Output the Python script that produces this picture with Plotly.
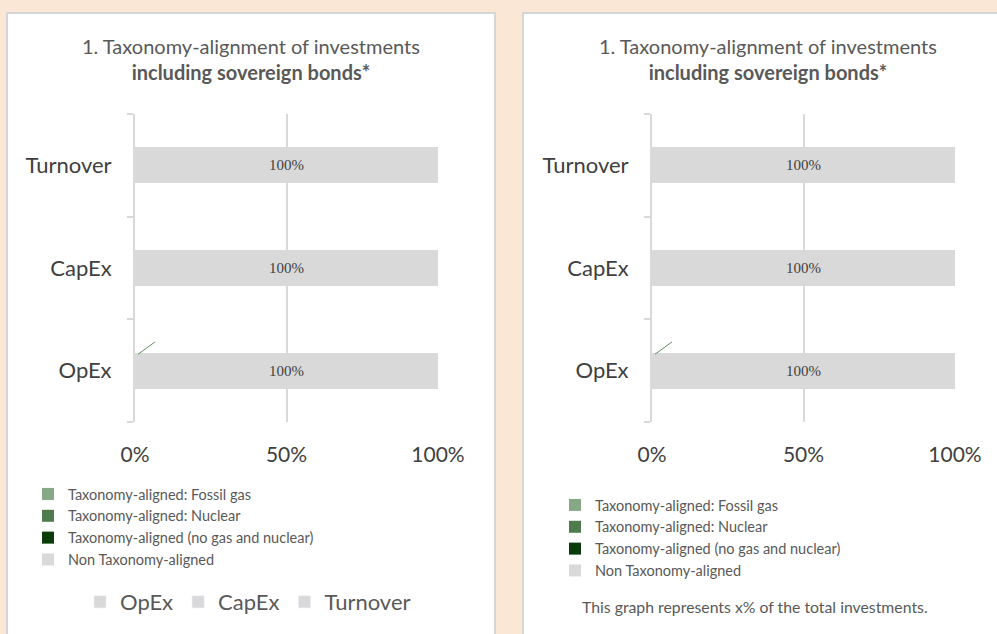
import plotly.graph_objects as go

# Data
categories = ["OpEx", "CapEx", "Turnover"]
series_names = [
    "Taxonomy-aligned: Fossil gas",
    "Taxonomy-aligned: Nuclear",
    "Taxonomy-aligned (no gas and nuclear)",
    "Non Taxonomy-aligned",
]
series_colors = ["#86A886", "#4E7A4E", "#0B3A0B", "#D9D9D9"]
# share of investments for each series, by category (OpEx, CapEx, Turnover)
fossil_gas = [0.0, 0.0, 0.0]
nuclear = [0.0, 0.0, 0.0]
aligned_other = [0.0, 0.0, 0.0]
non_aligned = [1.0, 1.0, 1.0]
series_values = [fossil_gas, nuclear, aligned_other, non_aligned]

kpi_names = ["OpEx", "CapEx", "Turnover"]
x_ticks = [0, 0.5, 1]

title_line1 = "1. Taxonomy-alignment of investments"
title_line2 = "including sovereign bonds*"
footnote = "This graph represents x% of the total investments."

W, H = 997, 634
BG = "#FBE7D6"
GRID = "#D9D9D9"
TXT = "#595959"
FONT = "Lato"


def px(x):
    return x / W


def py(y):
    return 1 - y / H


fig = go.Figure()

# one chart per panel
panels = [
    dict(xa="x", ya="y", legend="legend"),
    dict(xa="x2", ya="y2", legend="legend3"),
]

for p in panels:
    for name, color, vals in zip(series_names, series_colors, series_values):
        is_non = name == "Non Taxonomy-aligned"
        fig.add_trace(go.Bar(
            y=categories, x=vals, name=name, orientation="h",
            marker=dict(color=color, line=dict(width=0)),
            xaxis=p["xa"], yaxis=p["ya"], legend=p["legend"],
            texttemplate="%{x:.0%}" if is_non else None,
            textposition="inside" if is_non else "none",
            insidetextanchor="middle",
            textfont=dict(family="Liberation Serif", size=15, color="#404040"),
            hoverinfo="x+y+name",
        ))

# bottom legend of the left panel (OpEx / CapEx / Turnover)
for k in kpi_names:
    fig.add_trace(go.Bar(
        y=[None], x=[None], name=k, orientation="h",
        marker=dict(color=GRID), xaxis="x", yaxis="y",
        legend="legend2", showlegend=True, hoverinfo="skip",
    ))

xaxis_common = dict(
    range=[0, 1], tickvals=x_ticks, tickformat=".0%",
    showgrid=True, gridcolor=GRID, gridwidth=2, zeroline=False,
    showline=False, ticks="", ticklabelstandoff=18, automargin=False,
    tickfont=dict(family=FONT, size=21, color="#404040"),
    fixedrange=True,
)
yaxis_common = dict(
    type="category", categoryorder="array", categoryarray=categories,
    range=[-0.5, 2.5], showgrid=False, zeroline=False,
    showline=True, linecolor=GRID, linewidth=2,
    ticks="outside", tickson="boundaries", ticklen=6, tickcolor=GRID, tickwidth=2,
    ticklabelstandoff=17, automargin=False,
    tickfont=dict(family=FONT, size=22, color="#404040"),
    fixedrange=True,
)

legend_common = dict(
    bgcolor="rgba(0,0,0,0)", itemclick=False, itemdoubleclick=False,
    traceorder="normal",
)

fig.update_layout(
    width=W, height=H,
    margin=dict(l=0, r=0, t=0, b=0, autoexpand=False),
    paper_bgcolor=BG, plot_bgcolor="rgba(0,0,0,0)",
    barmode="stack", bargap=0.65,
    showlegend=True,
    xaxis=dict(domain=[px(135), px(438)], anchor="y", **xaxis_common),
    yaxis=dict(domain=[py(422), py(114)], anchor="x", **yaxis_common),
    xaxis2=dict(domain=[px(652), px(955)], anchor="y2", **xaxis_common),
    yaxis2=dict(domain=[py(422), py(114)], anchor="x2", **yaxis_common),
    legend=dict(
        x=px(28), y=py(478), xanchor="left", yanchor="top", orientation="v",
        font=dict(family=FONT, size=14.5, color=TXT), **legend_common,
    ),
    legend2=dict(
        x=px(248), y=py(602), xanchor="center", yanchor="middle", orientation="h",
        font=dict(family=FONT, size=22, color=TXT), **legend_common,
    ),
    legend3=dict(
        x=px(555), y=py(489), xanchor="left", yanchor="top", orientation="v",
        font=dict(family=FONT, size=14.5, color=TXT), **legend_common,
    ),
    font=dict(family=FONT, color=TXT),
)

# white panels
fig.add_shape(type="rect", xref="paper", yref="paper",
              x0=px(7), x1=px(495), y0=-0.05, y1=py(13),
              fillcolor="white", line=dict(color="#D6D6D6", width=2), layer="below")
fig.add_shape(type="rect", xref="paper", yref="paper",
              x0=px(523), x1=1.05, y0=-0.05, y1=py(13),
              fillcolor="white", line=dict(color="#D6D6D6", width=2), layer="below")

# titles
for cx in (251, 768):
    fig.add_annotation(x=px(cx), y=py(59), xref="paper", yref="paper",
                       xanchor="center", yanchor="middle",
                       text=title_line1 + "<br><b>" + title_line2 + "</b>",
                       showarrow=False, align="center",
                       font=dict(family=FONT, size=20, color=TXT))

# small leader line above the OpEx bar
for xa, ya in (("x", "y"), ("x2", "y2")):
    fig.add_shape(type="line", xref=xa, yref=ya,
                  x0=0.01, y0=0.16, x1=0.066, y1=0.28,
                  line=dict(color="#5E8F5E", width=1))

fig.add_annotation(x=px(580), y=py(606), xref="paper", yref="paper",
                   xanchor="left", yanchor="middle",
                   text=footnote, showarrow=False,
                   font=dict(family=FONT, size=15.8, color=TXT))

# page body has a default margin; drop it so the figure fills the window
fig.write_html("out.html", config={"displayModeBar": False},
               post_script="document.body.style.margin='0';")
